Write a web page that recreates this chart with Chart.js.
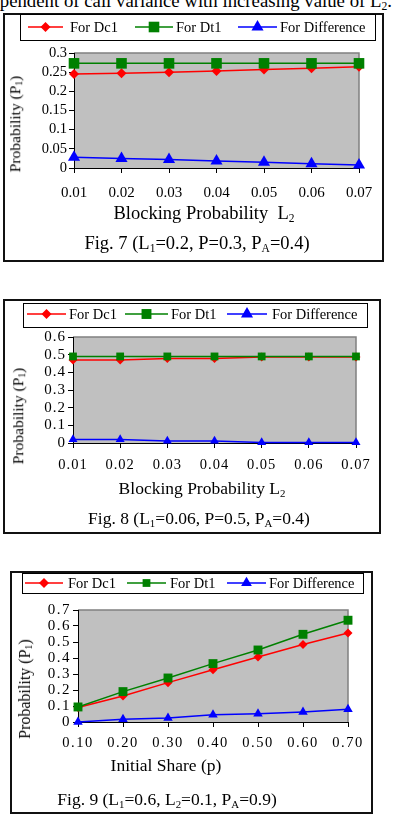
<!DOCTYPE html>
<html>
<head>
<meta charset="utf-8">
<script src="https://cdn.jsdelivr.net/npm/chart.js@4.4.1/dist/chart.umd.min.js"></script>
<style>
body { margin: 0; width: 394px; height: 818px; background: #fff; overflow: hidden; position: relative;
       font-family: "Liberation Serif", "Times New Roman", serif; color: #000; }
.frame { position: absolute; border: 2px solid #111; box-sizing: border-box; }
.cv { position: absolute; }
.t { position: absolute; white-space: nowrap; line-height: 1; transform: translate(-50%, -50%); }
.ytitle { position: absolute; white-space: nowrap; line-height: 1; transform: translate(-50%, -50%) rotate(-90deg); }
sub { font-size: 62%; vertical-align: -0.25em; line-height: 0; }
</style>
</head>
<body>

<div class="t" style="left:auto; right:2px; top:-8px; transform:none; font-size:18.8px;">independent of call variance with increasing value of L<sub>2</sub>.</div>

<!-- Fig. 7 -->
<div class="frame" style="left:3px; top:13px; width:381px; height:249px;"></div>
<canvas id="fig7" class="cv" width="381" height="196" style="left:3px; top:14px;"></canvas>
<div class="ytitle" style="left:15px; top:124px; font-size:15.5px;">Probability (P<sub>1</sub>)</div>
<div class="t" style="left:204px; top:213px; font-size:18.5px;">Blocking Probability &nbsp;L<sub>2</sub></div>
<div class="t" style="left:197px; top:243px; font-size:18.5px;">Fig. 7 (L<sub>1</sub>=0.2, P=0.3, P<sub>A</sub>=0.4)</div>

<!-- Fig. 8 -->
<div class="frame" style="left:3px; top:299px; width:378px; height:235px;"></div>
<canvas id="fig8" class="cv" width="378" height="180" style="left:3px; top:300px;"></canvas>
<div class="ytitle" style="left:18px; top:416px; font-size:15.5px;">Probability (P<sub>1</sub>)</div>
<div class="t" style="left:202px; top:489px; font-size:17.5px;">Blocking Probability L<sub>2</sub></div>
<div class="t" style="left:199px; top:519px; font-size:17.5px;">Fig. 8 (L<sub>1</sub>=0.06, P=0.5, P<sub>A</sub>=0.4)</div>

<!-- Fig. 9 -->
<div class="frame" style="left:10px; top:571px; width:363px; height:243px;"></div>
<canvas id="fig9" class="cv" width="363" height="185" style="left:10px; top:572px;"></canvas>
<div class="ytitle" style="left:25px; top:689px; font-size:16px;">Probability (P<sub>1</sub>)</div>
<div class="t" style="left:166px; top:766px; font-size:17.5px;">Initial Share (p)</div>
<div class="t" style="left:167px; top:800px; font-size:17.5px;">Fig. 9 (L<sub>1</sub>=0.6, L<sub>2</sub>=0.1, P<sub>A</sub>=0.9)</div>

<script>
var seriesNames = ['For Dc1', 'For Dt1', 'For Difference'];
var seriesColors = ['#ff0000', '#008000', '#0000ff'];
var seriesMarkers = ['rectRot', 'rect', 'triangle'];

var blockingLabels = ['0.01', '0.02', '0.03', '0.04', '0.05', '0.06', '0.07'];
var shareLabels = ['0.10', '0.20', '0.30', '0.40', '0.50', '0.60', '0.70'];

// Fig. 7 (L1=0.2, P=0.3, PA=0.4)
var fig7Dc1 = [0.245, 0.247, 0.250, 0.253, 0.257, 0.260, 0.264];
var fig7Dt1 = [0.273, 0.273, 0.273, 0.273, 0.273, 0.273, 0.273];
var fig7Diff = [0.028, 0.025, 0.022, 0.018, 0.015, 0.011, 0.008];

// Fig. 8 (L1=0.06, P=0.5, PA=0.4)
var fig8Dc1 = [0.470, 0.470, 0.478, 0.478, 0.487, 0.487, 0.487];
var fig8Dt1 = [0.490, 0.490, 0.490, 0.490, 0.490, 0.490, 0.490];
var fig8Diff = [0.020, 0.020, 0.012, 0.012, 0.003, 0.003, 0.003];

// Fig. 9 (L1=0.6, L2=0.1, PA=0.9)
var fig9Dc1 = [0.090, 0.163, 0.246, 0.327, 0.406, 0.484, 0.556];
var fig9Dt1 = [0.094, 0.190, 0.275, 0.365, 0.450, 0.548, 0.636];
var fig9Diff = [0.000, 0.017, 0.025, 0.046, 0.052, 0.063, 0.080];

var serif = '"Liberation Serif", "Times New Roman", serif';

// draws one marker shape like Chart.js does
function drawMarker(ctx, style, x, y, r) {
    ctx.beginPath();
    if (style === 'rectRot') {
        ctx.moveTo(x, y - r);
        ctx.lineTo(x + r, y);
        ctx.lineTo(x, y + r);
        ctx.lineTo(x - r, y);
    } else if (style === 'rect') {
        var s = r * Math.SQRT1_2;
        ctx.rect(x - s, y - s, 2 * s, 2 * s);
    } else {
        ctx.moveTo(x, y - r);
        ctx.lineTo(x + r * 0.866, y + r / 2);
        ctx.lineTo(x - r * 0.866, y + r / 2);
    }
    ctx.closePath();
    ctx.fill();
}

// grey plot area with darker top/right edge
var plotBackground = {
    id: 'plotBackground',
    beforeDraw: function(chart, args, opts) {
        var a = chart.chartArea;
        var ctx = chart.ctx;
        ctx.letterSpacing = opts.spacing || '0px';
        ctx.save();
        ctx.fillStyle = '#c0c0c0';
        ctx.fillRect(a.left, a.top, a.right - a.left, a.bottom - a.top);
        ctx.strokeStyle = '#808080';
        ctx.lineWidth = 1.5;
        ctx.beginPath();
        ctx.moveTo(a.left, a.top);
        ctx.lineTo(a.right, a.top);
        ctx.lineTo(a.right, a.bottom);
        ctx.stroke();
        ctx.restore();
    }
};

// legend in a box, line + marker + text
var boxedLegend = {
    id: 'boxedLegend',
    afterDraw: function(chart, args, opts) {
        var ctx = chart.ctx;
        ctx.save();
        ctx.letterSpacing = '0px';
        ctx.strokeStyle = '#000';
        ctx.lineWidth = 1;
        ctx.strokeRect(opts.box[0] + 0.5, opts.box[1] + 0.5, opts.box[2], opts.box[3]);
        ctx.font = opts.fontSize + 'px ' + serif;
        ctx.textBaseline = 'middle';
        chart.data.datasets.forEach(function(ds, i) {
            var line = opts.lines[i];
            ctx.strokeStyle = ds.borderColor;
            ctx.fillStyle = ds.borderColor;
            ctx.lineWidth = 1.5;
            ctx.beginPath();
            ctx.moveTo(line[0], opts.y);
            ctx.lineTo(line[1], opts.y);
            ctx.stroke();
            drawMarker(ctx, ds.pointStyle, (line[0] + line[1]) / 2, opts.y, opts.radius[i]);
            ctx.fillStyle = '#000';
            ctx.fillText(ds.label, opts.textX[i], opts.y + 1);
        });
        ctx.restore();
    }
};

function buildChart(canvasId, labels, dc1, dt1, diff, look) {
    var sets = [dc1, dt1, diff];
    var datasets = sets.map(function(vals, i) {
        return {
            label: seriesNames[i],
            data: vals,
            borderColor: seriesColors[i],
            backgroundColor: seriesColors[i],
            pointStyle: seriesMarkers[i],
            pointRadius: look.radius[i],
            pointHoverRadius: look.radius[i],
            pointBorderWidth: 0,
            borderWidth: 1.5,
            tension: 0,
            clip: false,
            order: [2, 1, 3][i]
        };
    });

    var ctx = document.getElementById(canvasId).getContext('2d');
    return new Chart(ctx, {
        type: 'line',
        data: { labels: labels, datasets: datasets },
        options: {
            responsive: false,
            animation: false,
            layout: { padding: { top: look.top, right: look.right, bottom: 0, left: 0 } },
            plugins: {
                legend: { display: false },
                tooltip: { enabled: false },
                plotBackground: { spacing: look.spacing },
                boxedLegend: look.legend
            },
            scales: {
                x: {
                    type: 'category',
                    offset: false,
                    grid: { drawOnChartArea: false, drawTicks: true, tickLength: 5, color: '#000' },
                    border: { color: '#000', width: 1 },
                    ticks: { color: '#000', font: { family: serif, size: look.xFont }, padding: look.xPad,
                             autoSkip: false, maxRotation: 0 },
                    afterFit: function(s) { s.height = look.xHeight; }
                },
                y: {
                    min: 0,
                    max: look.yMax,
                    grid: { drawOnChartArea: false, drawTicks: true, tickLength: 5, color: '#000' },
                    border: { color: '#000', width: 1 },
                    ticks: {
                        stepSize: look.yStep,
                        autoSkip: false,
                        color: '#000',
                        font: { family: serif, size: look.yFont },
                        padding: 2,
                        callback: function(v) { return String(Number(v.toFixed(2))); }
                    },
                    afterFit: function(s) { s.width = look.yWidth; }
                }
            }
        },
        plugins: [plotBackground, boxedLegend]
    });
}

buildChart('fig7', blockingLabels, fig7Dc1, fig7Dt1, fig7Diff, {
    top: 39, right: 25, yWidth: 71, xHeight: 42, xPad: 11,
    yMax: 0.3, yStep: 0.05, yFont: 14.5, xFont: 15, spacing: '0px',
    radius: [5, 7.5, 7],
    legend: { box: [17, 0, 355, 26], y: 13, fontSize: 14.5,
              lines: [[25, 60], [132, 170], [235, 274]], textX: [67, 173, 277], radius: [5, 7.5, 7] }
});

buildChart('fig8', blockingLabels, fig8Dc1, fig8Dt1, fig8Diff, {
    top: 37, right: 25, yWidth: 70, xHeight: 37, xPad: 8.5,
    yMax: 0.6, yStep: 0.1, yFont: 15, xFont: 14.5, spacing: '1px',
    radius: [4.5, 5.5, 5.2],
    legend: { box: [20, 3, 344, 24], y: 14, fontSize: 14.5,
              lines: [[24, 63], [122, 165], [224, 264]], textX: [66, 168, 269], radius: [5, 7, 7] }
});

buildChart('fig9', shareLabels, fig9Dc1, fig9Dt1, fig9Diff, {
    top: 38, right: 25, yWidth: 68, xHeight: 35, xPad: 7.5,
    yMax: 0.7, yStep: 0.1, yFont: 15, xFont: 14.5, spacing: '1.5px',
    radius: [4.5, 6.3, 5.5],
    legend: { box: [12, 1, 341, 20], y: 11, fontSize: 14.5,
              lines: [[15, 53], [117, 156], [217, 256]], textX: [58, 160, 259], radius: [5, 5.5, 6.2] }
});
</script>
</body>
</html>
